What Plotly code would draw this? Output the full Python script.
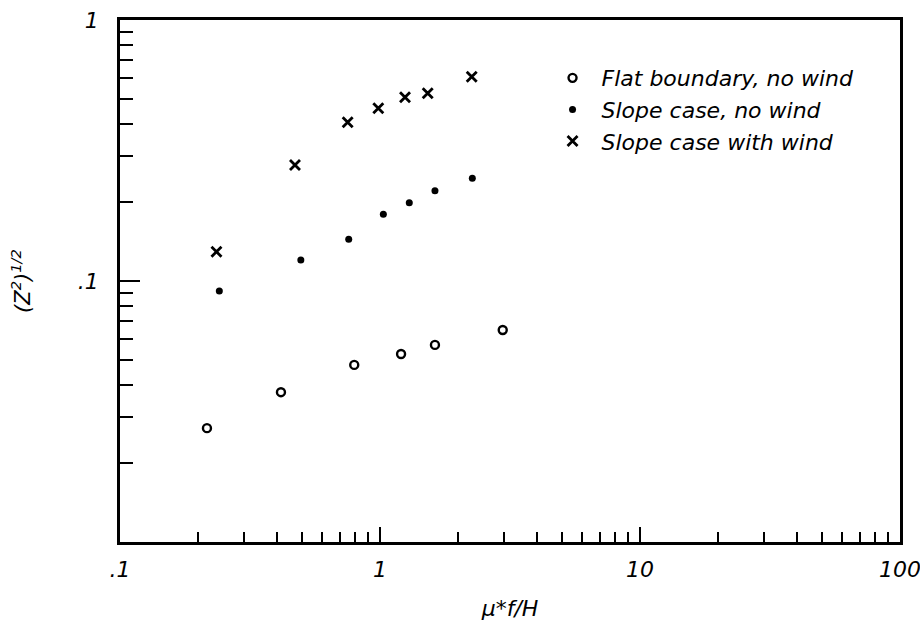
import plotly.graph_objects as go

# Data (log-log)
flat_x = [0.216, 0.416, 0.796, 1.205, 1.627, 2.965]
flat_y = [0.0273, 0.0375, 0.0477, 0.0525, 0.0569, 0.0649]

slope_x = [0.241, 0.496, 0.758, 1.030, 1.296, 1.627, 2.265]
slope_y = [0.0916, 0.1203, 0.1445, 0.1801, 0.1995, 0.2218, 0.2474]

wind_x = [0.235, 0.471, 0.751, 0.985, 1.248, 1.526, 2.253]
wind_y = [0.1295, 0.2782, 0.4055, 0.4587, 0.5056, 0.5238, 0.6063]

series_names = ["Flat boundary, no wind", "Slope case, no wind", "Slope case with wind"]

x_tickvals = [0.1, 1, 10, 100]
x_ticktext = [".1", "1", "10", "100"]
y_tickvals = [0.01, 0.1, 1]
y_ticktext = ["", ".1", "1"]
x_minor = [m * d for d in (0.1, 1, 10) for m in range(2, 10)]
y_minor = [m * d for d in (0.01, 0.1) for m in range(2, 10)]

FONT = "DejaVu Sans, Liberation Sans, Arial"

fig = go.Figure()
fig.add_trace(go.Scatter(x=flat_x, y=flat_y, mode="markers", name=series_names[0],
                         marker=dict(symbol="circle-open", size=8, color="black",
                                     line=dict(width=2.4, color="black"))))
fig.add_trace(go.Scatter(x=slope_x, y=slope_y, mode="markers", name=series_names[1],
                         marker=dict(symbol="circle", size=7, color="black")))
fig.add_trace(go.Scatter(x=wind_x, y=wind_y, mode="markers", name=series_names[2],
                         marker=dict(symbol="x-thin", size=10, color="black",
                                     line=dict(width=2.8, color="black"))))

axis_common = dict(
    type="log", showgrid=False, zeroline=False, automargin=False,
    showline=True, linecolor="black", linewidth=2.8, mirror=True,
    ticks="inside", tickcolor="black", tickwidth=2.2,
    tickmode="array", ticklabeloverflow="allow",
    tickfont=dict(family=FONT, size=22, color="black", style="italic"),
)

fig.update_xaxes(**axis_common, range=[-1, 2], tickvals=x_tickvals, ticktext=x_ticktext,
                 ticklen=15, ticklabelstandoff=6,
                 minor=dict(ticks="inside", tickvals=x_minor, ticklen=10, tickwidth=2,
                            tickcolor="black", showgrid=False),
                 title=dict(text="μ*f/H", standoff=20,
                            font=dict(family=FONT, size=22, color="black", style="italic")))
fig.update_yaxes(**axis_common, range=[-2, 0], tickvals=y_tickvals, ticktext=y_ticktext,
                 ticklen=20, ticklabelstandoff=14,
                 minor=dict(ticks="inside", tickvals=y_minor, ticklen=13, tickwidth=2,
                            tickcolor="black", showgrid=False),
                 title=dict(text="(Z<sup>2</sup>)<sup>1/2</sup>", standoff=42,
                            font=dict(family=FONT, size=21, color="black", style="italic")))

fig.update_layout(
    width=920, height=623,
    margin=dict(l=120, r=20, t=20, b=81),
    paper_bgcolor="white", plot_bgcolor="white",
    showlegend=True,
    legend=dict(x=0.543, y=0.929, xanchor="left", yanchor="top",
                bgcolor="rgba(0,0,0,0)", borderwidth=0,
                font=dict(family=FONT, size=22, color="black", style="italic"),
                itemwidth=48, tracegroupgap=0),
)

fig.write_html("out.html", config={"displayModeBar": False},
               post_script="document.body.style.margin='0';")
